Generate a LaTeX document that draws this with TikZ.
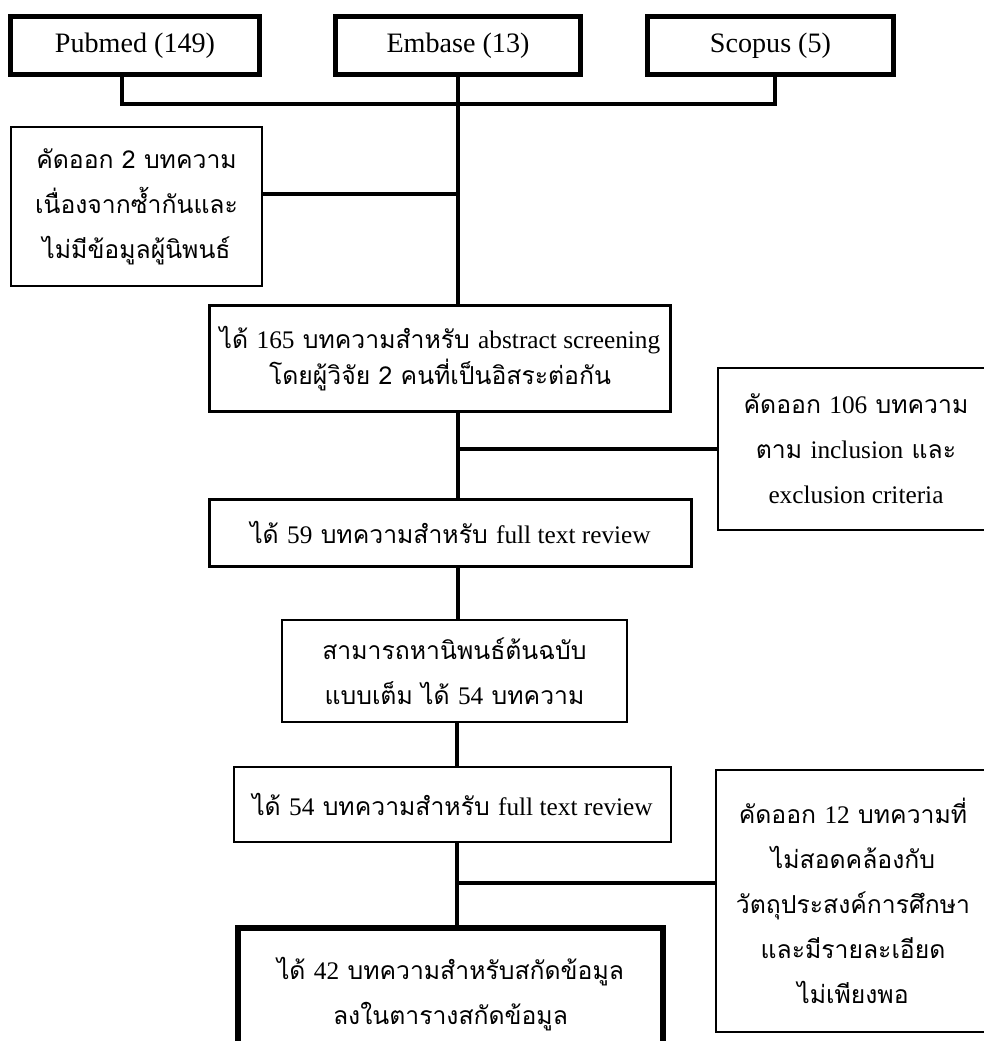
\documentclass[tikz,border=0pt]{standalone}
\usepackage{fontspec}
\setmainfont{Liberation Serif}
\newfontfamily\thaifont[Script=Thai]{Loma}
\newcommand{\eng}[1]{{\rmfamily\fontsize{18}{32}\selectfont #1}}
\begin{document}
\begin{tikzpicture}[x=0.025cm,y=-0.025cm,
  srcbox/.style={rectangle,draw,line width=3.5pt,inner sep=0pt,minimum height=1.45cm,font=\fontsize{20}{24}\selectfont},
  stepbox/.style={rectangle,draw,line width=1.5pt,inner sep=0pt,align=center,font=\thaifont\fontsize{17.6}{32}\selectfont},
  finalbox/.style={stepbox,line width=4.2pt},
  link/.style={line width=2.2pt}]
\useasboundingbox (0,0) rectangle (984,1041);
\clip (0,0) rectangle (984,1041);
% sources
\draw (135,45.5)node[srcbox,minimum width=6.22cm] (pubmed) {Pubmed (149)};
\draw (458,45.5)node[srcbox,minimum width=6.13cm] (embase) {Embase (13)};
\draw (770.5,45.5)node[srcbox,minimum width=6.15cm] (scopus) {Scopus (5)};
% screening steps
\draw (136.5,206.5)node[stepbox,minimum width=6.28cm,minimum height=3.98cm] (excl2) {คัดออก 2 บทความ\\เนื่องจากซ้ำกันและ\\ไม่มีข้อมูลผู้นิพนธ์};
\draw (440,358.5)node[stepbox,line width=1.8pt,minimum width=11.53cm,minimum height=2.65cm,font=\thaifont\fontsize{17.6}{26}\selectfont] (s165) {ได้ \eng{165} บทความสำหรับ \eng{abstract screening}\\โดยผู้วิจัย 2 คนที่เป็นอิสระต่อกัน};
\draw (856,449)node[stepbox,minimum width=6.9cm,minimum height=4.05cm] (excl106) {คัดออก \eng{106} บทความ\\ตาม \eng{inclusion} และ\\\eng{exclusion criteria}};
\draw (450.5,533)node[stepbox,line width=1.8pt,minimum width=12.05cm,minimum height=1.68cm] (s59) {ได้ \eng{59} บทความสำหรับ \eng{full text review}};
\draw (454.5,671)node[stepbox,minimum width=8.63cm,minimum height=2.55cm] (full54) {สามารถหานิพนธ์ต้นฉบับ\\แบบเต็ม ได้ \eng{54} บทความ};
\draw (452.5,804.5)node[stepbox,minimum width=10.93cm,minimum height=1.88cm] (s54) {ได้ \eng{54} บทความสำหรับ \eng{full text review}};
\draw (853,901)node[stepbox,minimum width=6.85cm,minimum height=6.55cm] (excl12) {คัดออก \eng{12} บทความที่\\ไม่สอดคล้องกับ\\วัตถุประสงค์การศึกษา\\และมีรายละเอียด\\ไม่เพียงพอ};
\draw (450.5,994)node[finalbox,minimum width=10.63cm,minimum height=3.3cm] (final42) {ได้ \eng{42} บทความสำหรับสกัดข้อมูล\\ลงในตารางสกัดข้อมูล};
% connectors
\coordinate (barL) at (122,104);
\coordinate (barR) at (775,104);
\coordinate (cut2) at (458,194);
\coordinate (cut12) at (457,883);
\draw[link] (pubmed.south -| barL) -- (barL) -- (barR) -- (scopus.south -| barR);
\draw[link] (embase.south) -- (embase.south |- s165.north);
\draw[link] (excl2.east |- cut2) -- (cut2);
\draw[link] (embase.south |- s165.south) -- (embase.south |- s59.north);
\draw[link] (excl106.west) -- (excl106.west -| embase.south);
\draw[link] (embase.south |- s59.south) -- (embase.south |- full54.north);
\draw[link] (cut12 |- full54.south) -- (cut12 |- s54.north);
\draw[link] (cut12 |- s54.south) -- (cut12 |- final42.north);
\draw[link] (cut12) -- (cut12 -| excl12.west);
\end{tikzpicture}
\end{document}
